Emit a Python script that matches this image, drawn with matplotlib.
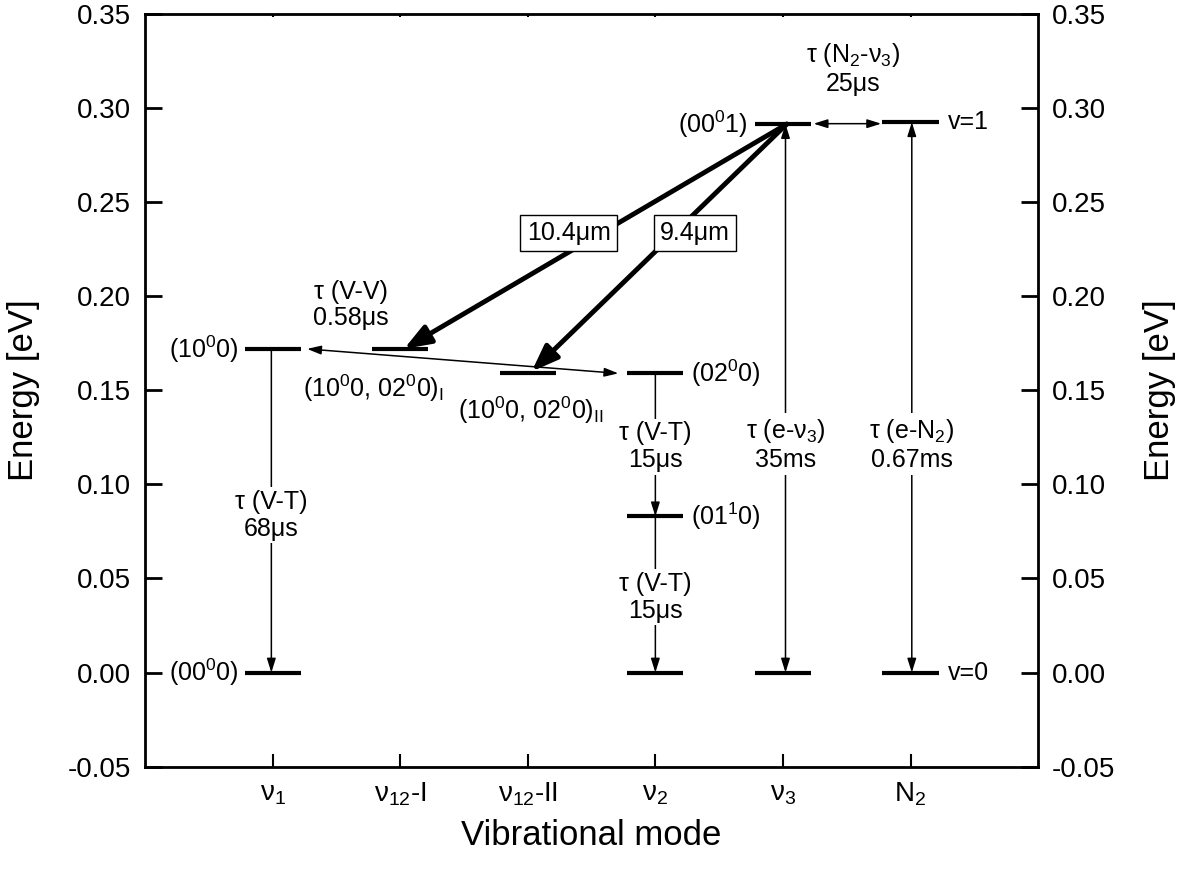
import matplotlib.pyplot as plt

plt.rcParams["font.family"] = ["Liberation Sans", "DejaVu Sans"]
plt.rcParams["mathtext.fontset"] = "custom"
plt.rcParams["mathtext.rm"] = "Liberation Sans"
plt.rcParams["mathtext.it"] = "Liberation Sans"
plt.rcParams["mathtext.bf"] = "Liberation Sans:bold"

# ------------------------------------------------------------
# Data: vibrational modes and energy levels (eV)
# ------------------------------------------------------------
mode_x = [1, 2, 3, 4, 5, 6]
mode_labels = [r"ν$_1$", r"ν$_{12}$-I", r"ν$_{12}$-II", r"ν$_2$", r"ν$_3$", r"N$_2$"]
y_ticks = [-0.05, 0.0, 0.05, 0.10, 0.15, 0.20, 0.25, 0.30, 0.35]

level_x = [1, 1, 2, 3, 4, 4, 4, 5, 5, 6, 6]
level_e = [0.0, 0.172, 0.172, 0.159, 0.159, 0.083, 0.0, 0.0, 0.2915, 0.0, 0.2925]

level_text = [
    r"(00$^0$0)",
    r"(10$^0$0)",
    r"(10$^0$0, 02$^0$0)$_\mathrm{I}$",
    r"(10$^0$0, 02$^0$0)$_\mathrm{II}$",
    r"(02$^0$0)",
    r"(01$^1$0)",
    r"(00$^0$1)",
    "v=1",
    "v=0",
]
level_text_x = [0.73, 0.73, 1.79, 3.02, 4.28, 4.28, 4.72, 6.29, 6.29]
level_text_e = [0.0, 0.172, 0.151, 0.1395, 0.159, 0.083, 0.2915, 0.2925, 0.0]
level_text_ha = ["right", "right", "center", "center", "left", "left", "right", "left", "left"]

# thin vertical relaxation / pumping arrows
decay_x = [0.99, 4.0, 4.0, 5.02, 6.01]
decay_top = [0.172, 0.159, 0.083, 0.2915, 0.2925]
decay_bot = [0.0, 0.083, 0.0, 0.0, 0.0]
decay_style = ["-|>", "-|>", "-|>", "<|-|>", "<|-|>"]
decay_text = [
    "τ (V-T)\n68μs",
    "τ (V-T)\n15μs",
    "τ (V-T)\n15μs",
    "τ (e-ν$_3$)\n35ms",
    "τ (e-N$_2$)\n0.67ms",
]
decay_text_e = [0.0837, 0.120, 0.040, 0.121, 0.121]

# laser transitions
laser_start = (5.03, 0.2915)
laser_end_x = [2.03, 3.03]
laser_end_e = [0.172, 0.160]
laser_text = ["10.4μm", "9.4μm"]
laser_text_x = [3.32, 4.31]
laser_text_e = [0.2336, 0.2336]


def thin_arrow(ax, xy_from, xy_to, style):
    head = style.replace("|>", "|>,head_length=0.7,head_width=0.22")
    ax.annotate(
        "",
        xy=xy_to,
        xytext=xy_from,
        arrowprops=dict(
            arrowstyle=head, color="black", lw=1.1,
            mutation_scale=12, shrinkA=0, shrinkB=0,
        ),
        zorder=2,
    )


fig = plt.figure(figsize=(11.86, 8.73), dpi=100)
ax = fig.add_axes([0.1223, 0.1218, 0.7530, 0.8622])

# energy levels
for x, e in zip(level_x, level_e):
    ax.plot([x - 0.22, x + 0.22], [e, e], color="black", lw=3, solid_capstyle="butt", zorder=3)

for t, x, e, ha in zip(level_text, level_text_x, level_text_e, level_text_ha):
    ax.text(x, e, t, ha=ha, va="center", fontsize=18)

# vertical arrows with lifetimes
for x, top, bot, st, t, te in zip(decay_x, decay_top, decay_bot, decay_style, decay_text, decay_text_e):
    thin_arrow(ax, (x, top), (x, bot), st)
    ax.text(
        x, te, t, ha="center", va="center", fontsize=18, linespacing=1.15,
        bbox=dict(facecolor="white", edgecolor="none", pad=2), zorder=4,
    )

# V-V exchange and N2 -> v3 transfer
thin_arrow(ax, (1.27, 0.172), (3.71, 0.159), "<|-|>")
ax.text(1.61, 0.1953, "τ (V-V)\n0.58μs", ha="center", va="center", fontsize=18, linespacing=1.15)
thin_arrow(ax, (5.24, 0.2917), (5.77, 0.2917), "<|-|>")
ax.text(5.55, 0.3208, "τ (N$_2$-ν$_3$)\n25μs", ha="center", va="center", fontsize=18, linespacing=1.15)

# laser lines
for ex, ee in zip(laser_end_x, laser_end_e):
    ax.annotate(
        "",
        xy=(ex, ee),
        xytext=laser_start,
        arrowprops=dict(
            arrowstyle="-|>,head_length=0.8,head_width=0.3",
            color="black", lw=3.5, mutation_scale=20, shrinkA=0, shrinkB=0,
        ),
        zorder=2,
    )
for t, x, e in zip(laser_text, laser_text_x, laser_text_e):
    ax.text(
        x, e, t, ha="center", va="center", fontsize=18, zorder=5,
        bbox=dict(facecolor="white", edgecolor="black", lw=1, boxstyle="square,pad=0.25"),
    )

# axes
ax.set_xlim(0, 7)
ax.set_ylim(-0.05, 0.35)
ax.set_xticks(mode_x, mode_labels)
ax.set_yticks(y_ticks, [f"{v:.2f}" for v in y_ticks])
ax.tick_params(axis="x", direction="in", length=9.5, width=1.5, labelsize=20, pad=10)
ax.tick_params(axis="y", direction="in", length=12, width=2, labelsize=20, pad=10)
for s in ax.spines.values():
    s.set_linewidth(2)
ax.set_xlabel("Vibrational mode", fontsize=25, labelpad=8)
ax.set_ylabel("Energy [eV]", fontsize=25, labelpad=20)

top = ax.secondary_xaxis("top")
top.set_xticks(mode_x, [""] * len(mode_x))
top.tick_params(direction="in", length=2, width=1.5)

right = ax.twinx()
right.set_ylim(-0.05, 0.35)
right.set_yticks(y_ticks, [f"{v:.2f}" for v in y_ticks])
right.tick_params(axis="y", direction="in", length=12, width=2, labelsize=20, pad=10)
right.set_ylabel("Energy [eV]", fontsize=25, labelpad=20)

fig.savefig("out.png", dpi=100)
